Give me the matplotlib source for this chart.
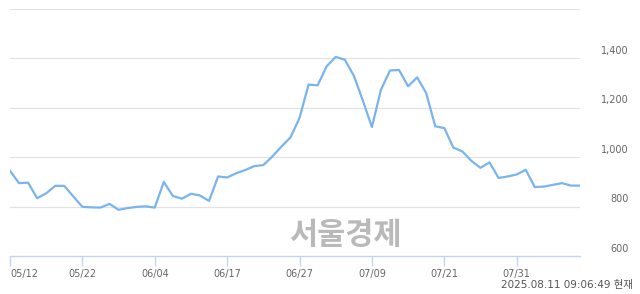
import pandas as pd
import matplotlib
matplotlib.use("Agg")
import matplotlib.pyplot as plt
import matplotlib.transforms as mtransforms

# ── Data ──────────────────────────────────────────────────────────────────────
holidays = ["2025-06-03", "2025-06-06"]
dates = [d for d in pd.bdate_range("2025-05-12", "2025-08-11")
         if d.strftime("%Y-%m-%d") not in holidays]

prices = [945, 895, 897, 834, 854, 884, 884, 841, 799, 797,
          796, 811, 787, 794, 799, 801, 796, 900, 843, 832,
          852, 845, 823, 922, 918, 935, 948, 964, 968, 1003,
          1043, 1080, 1159, 1294, 1291, 1368, 1406, 1395, 1330, 1229,
          1122, 1273, 1351, 1353, 1287, 1323, 1260, 1125, 1118, 1039,
          1023, 985, 957, 979, 916, 922, 930, 949, 879, 881,
          888, 895, 885, 885]

tick_dates = ["05/12", "05/22", "06/04", "06/17", "06/27", "07/09", "07/21", "07/31"]
y_ticks = [800, 1000, 1200, 1400, 1600]
y_labels = ["600", "800", "1,000", "1,200", "1,400"]
y_label_vals = [600, 800, 1000, 1200, 1400]
stamp = "2025.08.11 09:06:49 현재"
watermark = "서울경제"

# ── Figure ────────────────────────────────────────────────────────────────────
fig = plt.figure(figsize=(6.4, 2.94), dpi=100)
W, H = 640, 294
ax = fig.add_axes([10 / W, (H - 256) / H, 570 / W, 247 / H])

labels = [d.strftime("%m/%d") for d in dates]
x = list(range(len(prices)))
ax.plot(x, prices, color="#7ab4ee", linewidth=1.6, solid_joinstyle="round", zorder=3)

ax.set_xlim(0, len(prices) - 1)
ax.set_ylim(600, 1600)

for v in y_ticks:
    ax.axhline(v, color="#e3e3e3", linewidth=0.9, zorder=1)

for s in ["top", "right", "left"]:
    ax.spines[s].set_visible(False)
ax.spines["bottom"].set_color("#c4d6ee")
ax.spines["bottom"].set_linewidth(1.0)

ax.set_yticks([])
tick_pos = [labels.index(t) for t in tick_dates]
ax.set_xticks(tick_pos)
ax.set_xticklabels(tick_dates, fontsize=7, color="#666666")
ax.tick_params(axis="x", length=7, width=1.0, color="#c4d6ee", pad=2)
ax.get_xticklabels()[0].set_horizontalalignment("left")

# right side price labels, sitting just above each gridline
trans = mtransforms.blended_transform_factory(fig.transFigure, ax.transData)
for v, lab in zip(y_label_vals, y_labels):
    ax.text(629 / W, v + 10, lab, transform=trans, clip_on=False,
            ha="right", va="bottom", fontsize=7, color="#666666")

fig.text(345 / W, (H - 235) / H, watermark, ha="center", va="center",
         fontsize=22, fontweight="bold", color="#b9b9b9",
         family=["Noto Sans CJK KR", "DejaVu Sans"], zorder=0)

fig.text(633 / W, (H - 285) / H, stamp, ha="right", va="center",
         fontsize=7.5, color="#555555", family=["DejaVu Sans", "Noto Sans CJK KR"])

plt.savefig("out.png", dpi=100)
plt.close()
